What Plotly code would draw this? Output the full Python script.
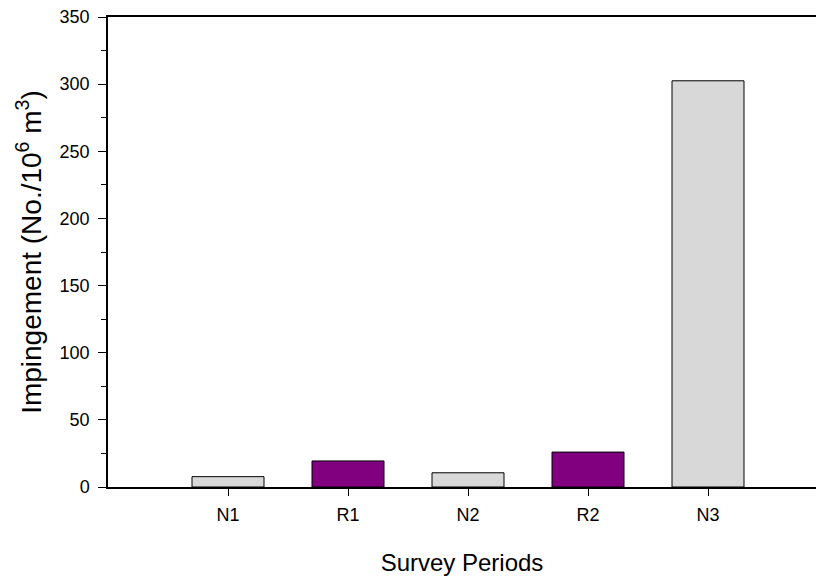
import plotly.graph_objects as go

categories = ["N1", "R1", "N2", "R2", "N3"]
values = [7.7, 19.4, 10.6, 26.0, 302.5]
colors = ["#d8d8d8", "#800080", "#d8d8d8", "#800080", "#d8d8d8"]

font = "Liberation Sans, Arial, sans-serif"

fig = go.Figure(go.Bar(
    x=list(range(len(categories))),
    y=values,
    width=0.6,
    marker=dict(color=colors, line=dict(color="black", width=1)),
))

fig.update_layout(
    width=816, height=577,
    margin=dict(l=108, r=0, t=17, b=90),
    plot_bgcolor="white", paper_bgcolor="white",
    showlegend=False,
    font=dict(family=font, size=18, color="black"),
)

fig.update_xaxes(
    range=[-1, 4.9],
    tickmode="array", tickvals=list(range(len(categories))), ticktext=categories,
    showline=True, linecolor="black", linewidth=1.5, mirror=True,
    ticks="outside", ticklen=7, tickcolor="black", tickwidth=1,
    ticklabelstandoff=4,
    showgrid=False, zeroline=False,
    title=dict(text="Survey Periods", standoff=30, font=dict(size=24)),
    tickfont=dict(size=18),
)
fig.update_yaxes(
    range=[0, 350], dtick=50,
    showline=True, linecolor="black", linewidth=1.5,
    ticks="outside", ticklen=8, tickcolor="black", tickwidth=1,
    ticklabelstandoff=5,
    minor=dict(dtick=25, ticks="outside", ticklen=5, tickcolor="black", showgrid=False),
    showgrid=False, zeroline=False,
    title=dict(text="Impingement (No./10<sup>6</sup> m<sup>3</sup>)", standoff=10, font=dict(size=28)),
    tickfont=dict(size=18),
)

fig.write_html(
    "out.html",
    config={"displayModeBar": False},
    post_script="document.body.style.margin='0';document.body.style.overflow='hidden';",
)
